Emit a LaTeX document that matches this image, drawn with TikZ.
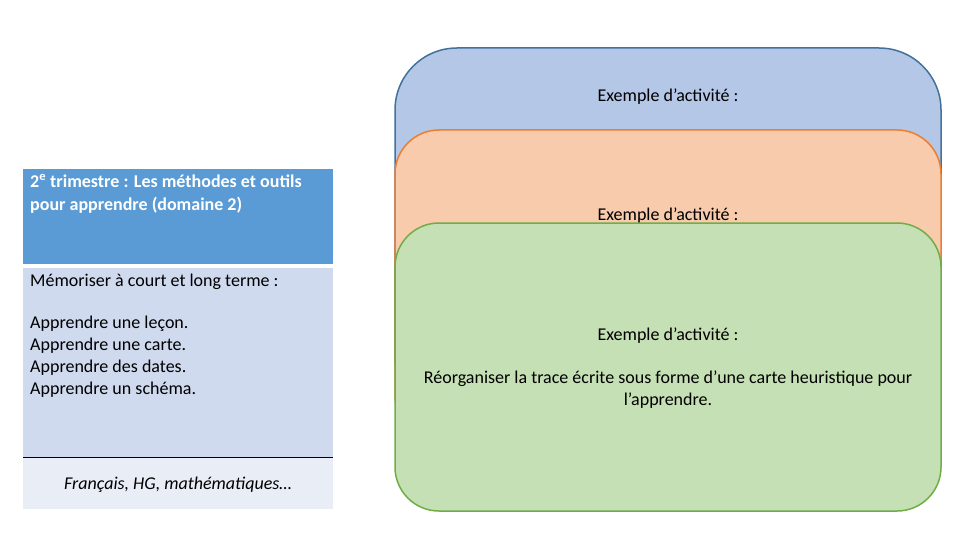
\documentclass[tikz,border=0pt]{standalone}
\usepackage{fontspec}
\setmainfont{Carlito}
\definecolor{hdrblue}{HTML}{5B9BD5}
\definecolor{bodyblue}{HTML}{CFDAEE}
\definecolor{footblue}{HTML}{E9EDF6}
\definecolor{bluefill}{HTML}{B4C7E7}
\definecolor{blueline}{HTML}{41719C}
\definecolor{orfill}{HTML}{F8CBAD}
\definecolor{orline}{HTML}{ED7D31}
\definecolor{grfill}{HTML}{C5E0B4}
\definecolor{grline}{HTML}{70AD47}
\tikzset{
  card/.style={line width=1.5pt},
  txt/.style={inner sep=0pt, font=\fontsize{18}{21.7}\selectfont},
}
\begin{document}
\begin{tikzpicture}[x=1pt,y=-1pt]
\useasboundingbox (0,0) rectangle (960,540);
% left table
\fill[hdrblue] (23,169) rectangle (333,264);
\fill[bodyblue] (23,268) rectangle (333,457);
\fill[footblue] (23,458) rectangle (333,509);
\coordinate (la) at (23,457.5);
\coordinate (lb) at (333,457.5);
\draw[line width=0.8pt] (la) -- (lb);
\node[txt, anchor=base west, align=left, text=white, font=\fontsize{18}{23}\selectfont\bfseries] (head) at (30,210)
  {2\textsuperscript{e} trimestre : Les méthodes et outils\\pour apprendre (domaine 2)};
\node[txt, anchor=base west] (mem) at (30,286) {Mémoriser à court et long terme :};
\node[txt, anchor=base west, align=left] (list) at (30,394)
  {Apprendre une leçon.\\Apprendre une carte.\\Apprendre des dates.\\Apprendre un schéma.};
\node[txt, anchor=base, font=\fontsize{18}{21.7}\selectfont\itshape] (foot) at (178,489) {Français, HG, mathématiques…};
% cards
\draw[card, draw=blueline, fill=bluefill, rounded corners=62pt] (395,48) rectangle (941,420);
\node[txt, anchor=base] (ex1) at (668,102) {Exemple d’activité :};
\draw[card, draw=orline, fill=orfill, rounded corners=44pt] (395,130) rectangle (941,440);
\node[txt, anchor=base] (ex2) at (668,220) {Exemple d’activité :};
\draw[card, draw=grline, fill=grfill, rounded corners=44pt] (395,223) rectangle (941,511);
\node[txt, anchor=base] (ex3) at (668,340) {Exemple d’activité :};
\node[txt, anchor=base, align=center] (act) at (668,405)
  {Réorganiser la trace écrite sous forme d’une carte heuristique pour\\l’apprendre.};
\end{tikzpicture}
\end{document}
